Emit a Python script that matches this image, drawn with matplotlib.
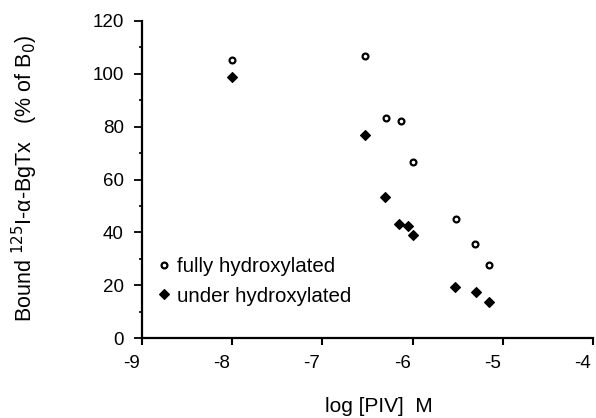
import matplotlib
matplotlib.use("Agg")
import matplotlib.pyplot as plt
import matplotlib.transforms as mtransforms
from matplotlib.ticker import MultipleLocator

plt.rcParams["font.family"] = ["Liberation Sans", "DejaVu Sans"]

# fully hydroxylated (open circles)
full_x = [-8.0, -6.53, -6.30, -6.13, -6.0, -5.52, -5.31, -5.16]
full_y = [105.3, 106.8, 83.3, 82.3, 66.5, 45.0, 35.5, 27.6]

# under hydroxylated (filled diamonds)
under_x = [-8.0, -6.53, -6.31, -6.15, -6.05, -6.0, -5.53, -5.30, -5.16]
under_y = [98.9, 77.0, 53.3, 43.3, 42.4, 39.0, 19.2, 17.5, 13.5]

x_ticks = [-9, -8, -7, -6, -5, -4]
x_labels = ["-9", "-8", "-7", "-6", "-5", "-4"]
y_ticks = [0, 20, 40, 60, 80, 100, 120]

fig = plt.figure(figsize=(5.96, 4.18), dpi=100)
ax = fig.add_axes([0.2378, 0.191, 0.7577, 0.759])

ax.plot(full_x, full_y, linestyle="none", marker="o", ms=4.2, mfc="white",
        mec="black", mew=1.6, label="fully hydroxylated", clip_on=False)
ax.plot(under_x, under_y, linestyle="none", marker="D", ms=5.2, color="black",
        mew=0.8, label="under hydroxylated", clip_on=False)

ax.set_xlim(-9, -4)
ax.set_ylim(0, 120)
ax.set_xticks(x_ticks)
ax.set_xticklabels(x_labels)
ax.set_yticks(y_ticks)
ax.yaxis.set_minor_locator(MultipleLocator(10))

for s in ["top", "right"]:
    ax.spines[s].set_visible(False)
for s in ["left", "bottom"]:
    ax.spines[s].set_linewidth(1.6)

ax.tick_params(axis="x", which="major", direction="out", length=5,
               width=1.5, labelsize=13.5, pad=7)
ax.tick_params(axis="y", which="major", direction="out", length=6,
               width=1.3, labelsize=13.5, pad=7)
ax.tick_params(axis="y", which="minor", direction="out", length=2.5, width=1.2)

# x tick labels sit just left of their ticks in the original
shift = mtransforms.ScaledTranslation(-2 / 100, 0, fig.dpi_scale_trans)
for lab in ax.get_xticklabels():
    lab.set_horizontalalignment("right")
    lab.set_transform(lab.get_transform() + shift)

fig.text(379 / 596, 1 - 407 / 418, "log [PIV]  M", fontsize=15,
         ha="center", va="center")
fig.text(25 / 596, 1 - 178 / 418, "Bound $^{125}$I-α-BgTx   (% of B$_0$)",
         fontsize=15.5, rotation=90, ha="center", va="center")

ax.legend(loc="upper left", bbox_to_anchor=(0.035, 0.255), frameon=False,
          fontsize=14.8, handlelength=0.6, handletextpad=0.35, borderpad=0,
          borderaxespad=0, labelspacing=0.5)

fig.savefig("out.png", dpi=100)
